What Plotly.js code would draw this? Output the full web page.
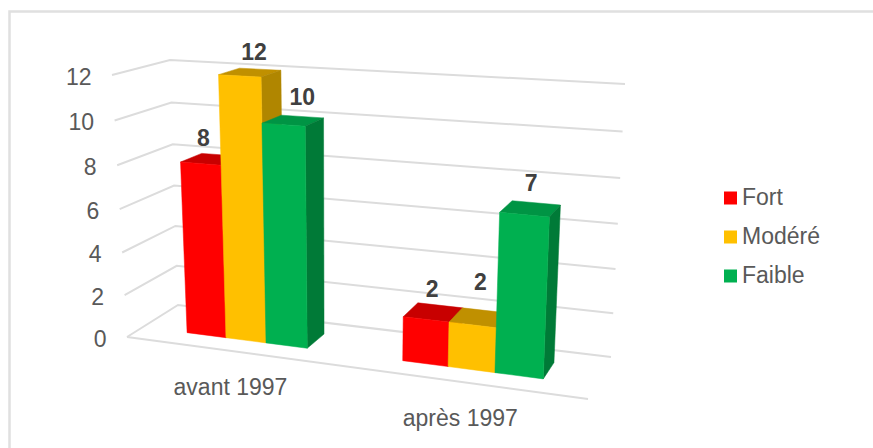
<!DOCTYPE html>
<html><head><meta charset="utf-8"><script src="https://cdn.plot.ly/plotly-3.0.1.min.js"></script></head>
<body style="margin:0;background:#fff"><div id="c" style="width:873px;height:448px"></div>
<script>
const categories=["avant 1997","après 1997"];
const seriesNames=["Fort","Modéré","Faible"];
const fort=[8,2];
const modere=[12,2];
const faible=[10,7];
const yTicks=[0,2,4,6,8,10,12];
const frontColors=["#ff0000","#ffc000","#00b050"];
const topColors=["#c80000","#c09000","#009444"];
const sideColors=["#a00000","#b08600","#007a37"];

// Oblique view of the box: floor corners (front-left, front-right, back-right, back-left)
// and the lift of each corner at the top of the value axis
const floorQuad=[[127,337],[588,399],[611,357],[178,305]];
const liftQuad=[[-15,-262],[13,-292],[14,-273],[-8,-245]];
const vMax=12, vPersp=1.05;
function homography(q){
  const [[x0,y0],[x1,y1],[x2,y2],[x3,y3]]=q;
  const dx1=x1-x2,dx2=x3-x2,sx=x0-x1+x2-x3,dy1=y1-y2,dy2=y3-y2,sy=y0-y1+y2-y3;
  const den=dx1*dy2-dx2*dy1;
  const g=(sx*dy2-dx2*sy)/den,h=(dx1*sy-sx*dy1)/den;
  const a=x1-x0+g*x1,b=x3-x0+h*x3,d=y1-y0+g*y1,e=y3-y0+h*y3;
  return (u,w)=>{const n=g*u+h*w+1;return [(a*u+b*w+x0)/n,(d*u+e*w+y0)/n];};
}
const hFloor=homography(floorQuad);
function P(u,w,v){
  const a=hFloor(u,w),t=v/vMax,s=t/(vPersp-(vPersp-1)*t);
  const l=[0,1].map(i=>(1-u)*(1-w)*liftQuad[0][i]+u*(1-w)*liftQuad[1][i]+u*w*liftQuad[2][i]+(1-u)*w*liftQuad[3][i]);
  return [a[0]+l[0]*s,a[1]+l[1]*s];
}
function poly(pts,color,name){
  const c=[...pts,pts[0]];
  return {type:'scatter',mode:'lines',x:c.map(p=>p[0]),y:c.map(p=>p[1]),fill:'toself',fillcolor:color,
    line:{color:color,width:0.5},hoverinfo:'skip',showlegend:false,name:name};
}
const traces=[];
// gridlines
const gx=[],gy=[];
yTicks.forEach(v=>{
  [P(0,0,v),P(0,1,v),P(1,1,v)].forEach(p=>{gx.push(p[0]);gy.push(p[1]);});
  gx.push(null);gy.push(null);
});
[P(0,0,0),P(1,0,0)].forEach(p=>{gx.push(p[0]);gy.push(p[1]);});
traces.push({type:'scatter',mode:'lines',x:gx,y:gy,line:{color:'#dcdcdc',width:2},hoverinfo:'skip',showlegend:false});
// bars
const groupCentre=[0.256,0.756],barW=0.096,depth0=0.3,depth1=0.7;
const series=[fort,modere,faible];
// per-label nudges of the data labels, in px
const labelNudgeX=[[-18,-6,0],[-8,-5,-5]];
const labelNudgeY=[[7,7,5],[8,-4,4]];
const labX=[],labY=[],labT=[];
categories.forEach((cat,c)=>{
  series.forEach((vals,s)=>{
    const v=vals[c],u0=groupCentre[c]+(s-1.5)*barW,u1=u0+barW;
    traces.push(poly([P(u0,depth0,v),P(u1,depth0,v),P(u1,depth1,v),P(u0,depth1,v)],topColors[s],seriesNames[s]+' top'));
    traces.push(poly([P(u1,depth0,0),P(u1,depth1,0),P(u1,depth1,v),P(u1,depth0,v)],sideColors[s],seriesNames[s]+' side'));
    traces.push(poly([P(u0,depth0,0),P(u1,depth0,0),P(u1,depth0,v),P(u0,depth0,v)],frontColors[s],seriesNames[s]));
    const p=P((u0+u1)/2,depth1,v);
    labX.push(p[0]+labelNudgeX[c][s]);labY.push(p[1]-22+labelNudgeY[c][s]);labT.push(String(v));
  });
});
traces.push({type:'scatter',mode:'text',x:labX,y:labY,text:labT,textposition:'middle center',
  textfont:{size:23,color:'#404040',family:'Liberation Sans',weight:700},hoverinfo:'skip',showlegend:false});
// value-axis labels
const tickPts=yTicks.map(v=>P(0,0,v));
traces.push({type:'scatter',mode:'text',x:tickPts.map(p=>p[0]-20.5),y:tickPts.map(p=>p[1]+4),text:yTicks.map(String),textposition:'middle left',
  textfont:{size:23,color:'#595959',family:'Liberation Sans'},hoverinfo:'skip',showlegend:false});
// category labels
const catPts=groupCentre.map(u=>P(u,0,0));
traces.push({type:'scatter',mode:'text',x:catPts.map(p=>p[0]-1),y:catPts.map(p=>p[1]+38),text:categories,textposition:'middle center',
  textfont:{size:23,color:'#595959',family:'Liberation Sans'},hoverinfo:'skip',showlegend:false});
// legend
const legendY=[198,237,276];
seriesNames.forEach((n,s)=>{
  traces.push({type:'scatter',mode:'markers',x:[730.5],y:[legendY[s]],name:n,
    marker:{symbol:'square',size:13,color:frontColors[s]},hoverinfo:'skip',showlegend:false});
  traces.push({type:'scatter',mode:'text',x:[742],y:[legendY[s]+1],text:[n],textposition:'middle right',
    textfont:{size:23,color:'#595959',family:'Liberation Sans'},hoverinfo:'skip',showlegend:false});
});
Plotly.newPlot('c',traces,{
  width:873,height:448,margin:{l:0,r:0,t:0,b:0},paper_bgcolor:'#fff',plot_bgcolor:'#fff',showlegend:false,
  xaxis:{range:[0,873],visible:false,fixedrange:true},
  yaxis:{range:[448,0],visible:false,fixedrange:true},
  shapes:[{type:'rect',xref:'x',yref:'y',x0:9.5,x1:890,y0:11.5,y1:465,line:{color:'#e0e0e0',width:2.5},layer:'below'}]
},{displayModeBar:false,staticPlot:true});
</script></body></html>
